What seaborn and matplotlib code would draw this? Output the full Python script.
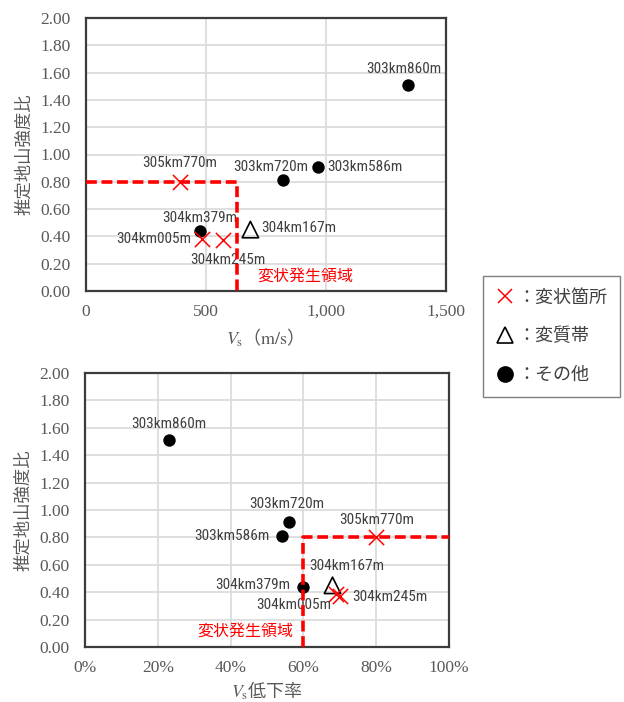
import matplotlib
matplotlib.use("Agg")
import matplotlib.pyplot as plt
import matplotlib.ticker as mticker
from matplotlib.lines import Line2D
from matplotlib import font_manager
import seaborn as sns
import pandas as pd

# ---------------- data ----------------
top_names = ["303km860m", "303km586m", "303km720m", "305km770m",
             "304km379m", "304km005m", "304km245m", "304km167m"]
top_vs = [1340, 965, 820, 390, 475, 485, 570, 685]
top_ratio = [1.51, 0.91, 0.81, 0.80, 0.44, 0.38, 0.37, 0.45]
top_type = ["その他", "その他", "その他", "変状箇所",
            "その他", "変状箇所", "変状箇所", "変質帯"]

bot_names = ["303km860m", "303km720m", "303km586m", "305km770m",
             "304km379m", "304km005m", "304km245m", "304km167m"]
bot_drop = [0.23, 0.56, 0.54, 0.80, 0.60, 0.69, 0.70, 0.68]
bot_ratio = [1.51, 0.91, 0.81, 0.80, 0.44, 0.385, 0.37, 0.45]
bot_type = ["その他", "その他", "その他", "変状箇所",
            "その他", "変状箇所", "変状箇所", "変質帯"]

# boundary of the deformation region
top_region_x = [0, 630, 630]
top_region_y = [0.80, 0.80, 0.00]
bot_region_x = [0.60, 0.60, 1.00]
bot_region_y = [0.00, 0.80, 0.80]

region_label = "変状発生領域"
ylabel = "推定地山強度比"
top_xlabel = r"$V_{\mathrm{s}}$（$\mathrm{m/s}$）"
bot_xlabel = r"$V_{\mathrm{s}}$低下率"
legend_labels = {"変状箇所": "：変状箇所", "変質帯": "：変質帯", "その他": "：その他"}

# ---------------- layout / style ----------------
top_offsets = {  # label offset in pixels (dx, dy, ha)
    "303km860m": (-4, 16, "center"),
    "303km586m": (10, 0, "left"),
    "303km720m": (-12, 13, "center"),
    "305km770m": (0, 19, "center"),
    "304km379m": (0, 13, "center"),
    "304km005m": (-11, 0, "right"),
    "304km245m": (5, -20, "center"),
    "304km167m": (11, 2, "left"),
}
bot_offsets = {
    "303km860m": (0, 16, "center"),
    "303km720m": (-2, 18, "center"),
    "303km586m": (-12, 0, "right"),
    "305km770m": (0, 17, "center"),
    "304km379m": (-13, 2, "right"),
    "304km005m": (-42, -11, "center"),
    "304km245m": (12, -1, "left"),
    "304km167m": (14, 19, "center"),
}

sns.set_style("white")
plt.rcParams["font.family"] = ["Noto Sans CJK JP", "DejaVu Sans"]
plt.rcParams["mathtext.fontset"] = "stix"

installed = {f.name for f in font_manager.fontManager.ttflist}
narrow_size = {"Liberation Sans Narrow": 11, "DejaVu Sans Condensed": 10,
               "Roboto Condensed": 11, "Roboto": 10, "Liberation Sans": 10}
PT_FONT, PT_SIZE = "Noto Sans CJK JP", 9.5
for name in ["Liberation Sans Narrow", "DejaVu Sans Condensed", "Roboto Condensed", "Roboto"]:
    if name in installed:
        PT_FONT, PT_SIZE = name, narrow_size[name]
        break

GRAY_TXT = "#595959"
LABEL_TXT = "#404040"
RED = "#ff0000"
SERIF = ["Liberation Serif", "DejaVu Serif"]
CJK = ["Noto Sans CJK JP", "DejaVu Sans"]

fig = plt.figure(figsize=(6.24, 7.02), dpi=100)
ax1 = fig.add_axes([86 / 624, 1 - 291 / 702, 360 / 624, 273 / 702])
ax2 = fig.add_axes([85 / 624, 1 - 647 / 702, 364 / 624, 274 / 702])


def draw_points(ax, xs, ys, types):
    df = pd.DataFrame({"x": xs, "y": ys, "type": types})
    d = df[df["type"] == "その他"]
    sns.scatterplot(data=d, x="x", y="y", ax=ax, marker="o", s=80,
                    color="black", edgecolor="black", linewidth=0, zorder=2)
    d = df[df["type"] == "変質帯"]
    sns.scatterplot(data=d, x="x", y="y", ax=ax, marker="^", s=140,
                    facecolor="none", edgecolor="black", linewidth=1.2, zorder=2)
    d = df[df["type"] == "変状箇所"]
    sns.scatterplot(data=d, x="x", y="y", ax=ax, marker="x", s=120,
                    color=RED, linewidth=1.1, zorder=3)


def label_points(ax, names, xs, ys, offsets):
    for n, x, y in zip(names, xs, ys):
        dx, dy, ha = offsets[n]
        ax.annotate(n, (x, y), xytext=(dx, dy), textcoords="offset pixels",
                    ha=ha, va="center", fontsize=PT_SIZE, color=LABEL_TXT,
                    family=[PT_FONT, "DejaVu Sans"], zorder=3.5)


def style_axes(ax):
    ax.set_ylim(0, 2.0)
    ax.yaxis.set_major_locator(mticker.MultipleLocator(0.2))
    ax.yaxis.set_major_formatter(mticker.FormatStrFormatter("%.2f"))
    ax.grid(True, color="#d9d9d9", linewidth=1.2)
    ax.set_axisbelow(True)
    for s in ax.spines.values():
        s.set_color("#3c3c3c")
        s.set_linewidth(1.6)
        s.set_visible(True)
    ax.tick_params(axis="both", length=0, colors=GRAY_TXT, labelsize=12.5)
    ax.tick_params(axis="y", pad=11)
    ax.tick_params(axis="x", pad=9)
    for t in ax.get_xticklabels() + ax.get_yticklabels():
        t.set_family(SERIF)
    ax.set_ylabel(ylabel, family=CJK, fontsize=12.5, color=GRAY_TXT, labelpad=5)


# ---- top chart ----
draw_points(ax1, top_vs, top_ratio, top_type)
label_points(ax1, top_names, top_vs, top_ratio, top_offsets)
ax1.plot(top_region_x, top_region_y, color=RED, linestyle=(0, (3, 1.3)),
         linewidth=2.6, zorder=4, clip_on=False)
ax1.set_xlim(0, 1500)
ax1.xaxis.set_major_locator(mticker.MultipleLocator(500))
ax1.xaxis.set_major_formatter(mticker.FuncFormatter(lambda v, p: f"{int(v):,}"))
style_axes(ax1)
ax1.set_xlabel(top_xlabel, family=CJK, fontsize=13, color=GRAY_TXT, labelpad=5)
ax1.xaxis.set_label_coords(0.485, -0.13)
ax1.text(712, 0.11, region_label, color=RED, family=CJK, fontsize=11.5,
         ha="left", va="center", zorder=5)

# ---- bottom chart ----
draw_points(ax2, bot_drop, bot_ratio, bot_type)
label_points(ax2, bot_names, bot_drop, bot_ratio, bot_offsets)
ax2.plot(bot_region_x, bot_region_y, color=RED, linestyle=(0, (3, 1.3)),
         linewidth=2.6, zorder=4, clip_on=False)
ax2.set_xlim(0, 1.0)
ax2.xaxis.set_major_locator(mticker.MultipleLocator(0.2))
ax2.xaxis.set_major_formatter(mticker.PercentFormatter(1.0, decimals=0))
style_axes(ax2)
ax2.set_xlabel(bot_xlabel, family=CJK, fontsize=13, color=GRAY_TXT)
ax2.xaxis.set_label_coords(0.5, -0.12)
ax2.text(0.44, 0.117, region_label, color=RED, family=CJK, fontsize=11.5,
         ha="center", va="center", zorder=5)

# ---- legend ----
handles = [
    Line2D([], [], marker="x", color=RED, ls="none", markersize=10, mew=1.1),
    Line2D([], [], marker="^", mfc="none", mec="black", ls="none", markersize=12, mew=1.2),
    Line2D([], [], marker="o", color="black", ls="none", markersize=11),
]
leg = fig.legend(handles, [legend_labels["変状箇所"], legend_labels["変質帯"], legend_labels["その他"]],
                 loc="upper left", bbox_to_anchor=(483 / 624, 1 - 276 / 702),
                 frameon=True, fancybox=False, framealpha=1, edgecolor="#7f7f7f",
                 prop={"family": CJK, "size": 13}, labelspacing=1.15,
                 handlelength=1.0, handletextpad=0.2, borderpad=0.7,
                 borderaxespad=0)
leg.get_frame().set_linewidth(1.0)
for t in leg.get_texts():
    t.set_color(LABEL_TXT)

fig.savefig("out.png", dpi=100)
